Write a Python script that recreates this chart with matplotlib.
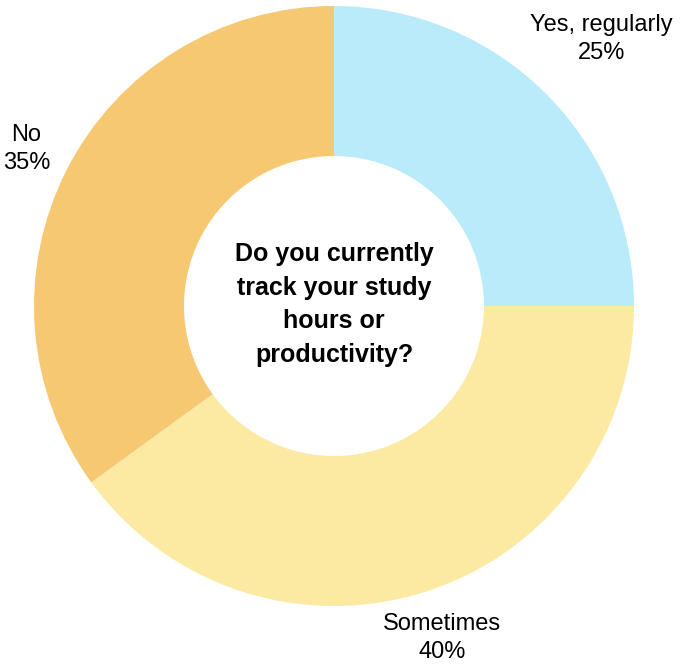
import matplotlib
matplotlib.use("Agg")
import matplotlib.pyplot as plt
import numpy as np

categories = ["Yes, regularly", "Sometimes", "No"]
values = [25, 40, 35]
colors = ["#BAEBFB", "#FCE9A2", "#F6C872"]
title = "Do you currently\ntrack your study\nhours or\nproductivity?"

plt.rcParams["font.family"] = ["Liberation Sans", "DejaVu Sans"]

W, H = 681, 666
fig = plt.figure(figsize=(W / 100, H / 100), dpi=100)
ax = fig.add_axes([0, 0, 1, 1])

cx, cy, R = 334, H - 306, 300
wedges, _ = ax.pie(values, colors=colors, startangle=90, counterclock=False,
                   center=(cx, cy), radius=R, frame=True,
                   wedgeprops=dict(width=R * 0.5, linewidth=0))
ax.set_xlim(0, W)
ax.set_ylim(0, H)
ax.set_aspect("equal")
ax.axis("off")

label_dist = [1.26, 1.165, 1.15]
for w, cat, v, d in zip(wedges, categories, values, label_dist):
    ang = np.deg2rad((w.theta1 + w.theta2) / 2)
    x = cx + R * d * np.cos(ang)
    y = cy + R * d * np.sin(ang)
    ax.text(x, y, f"{cat}\n{v}%", ha="center", va="center", fontsize=17,
            linespacing=1.35, color="black")

ax.text(cx, cy + 1.5, title, ha="center", va="center", fontsize=18,
        fontweight="bold", linespacing=1.5, color="black")

fig.savefig("out.png", dpi=100)
